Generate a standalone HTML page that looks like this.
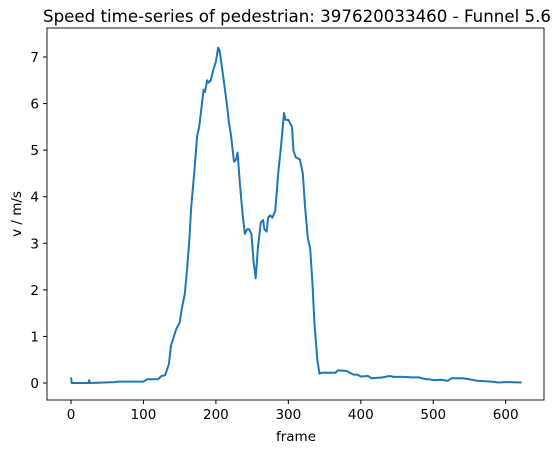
<!DOCTYPE html>
<html><head><meta charset="utf-8"><style>
body{margin:0;background:#fff;}
svg{display:block;font-family:"DejaVu Sans","Liberation Sans",sans-serif;}
</style></head><body>
<svg id="chart" width="560" height="453">
<text x="297" y="22" font-size="16.6" text-anchor="middle" textLength="508" lengthAdjust="spacingAndGlyphs">Speed time-series of pedestrian: 397620033460 - Funnel 5.6</text>
<rect x="47" y="28" width="497" height="372" fill="none" stroke="#000" stroke-width="0.9"/>
<g id="xt"></g><g id="yt"></g>
<path id="line" fill="none" stroke="#1f77b4" stroke-width="2" stroke-linejoin="round"/>
<text x="296" y="441" font-size="13.5" text-anchor="middle">frame</text>
<text transform="translate(21,214) rotate(-90)" font-size="13.5" text-anchor="middle">v / m/s</text>
</svg>
<script>
const xTicks=[0,100,200,300,400,500,600];
const yTicks=[0,1,2,3,4,5,6,7];
const frames=[0,1,24,25,26,60,65,100,105,120,125,130,135,138,142,145,150,153,157,160,163,166,170,174,177,180,183,185,188,190,193,196,200,203,205,210,215,218,221,225,228,230,233,237,240,243,246,249,252,255,258,262,265,267,270,272,275,278,282,286,290,294,296,300,305,307,310,316,320,323,327,330,333,336,340,343,346,350,360,365,368,380,385,390,395,400,410,415,430,440,445,460,470,480,490,495,500,510,520,525,540,550,560,580,590,600,622];
const speeds=[0.12,0.0,0.0,0.06,0.0,0.02,0.03,0.03,0.08,0.08,0.15,0.17,0.4,0.8,1.0,1.15,1.3,1.6,1.9,2.4,3.0,3.8,4.5,5.3,5.5,5.9,6.3,6.25,6.5,6.45,6.5,6.7,6.9,7.2,7.15,6.6,6.0,5.6,5.3,4.75,4.8,4.95,4.3,3.6,3.2,3.3,3.3,3.2,2.6,2.25,2.9,3.45,3.5,3.3,3.25,3.55,3.6,3.55,3.7,4.5,5.1,5.8,5.65,5.65,5.5,5.0,4.85,4.8,4.5,3.8,3.1,2.9,2.2,1.3,0.5,0.2,0.22,0.22,0.22,0.22,0.27,0.26,0.22,0.18,0.18,0.14,0.15,0.1,0.12,0.15,0.13,0.13,0.12,0.12,0.08,0.08,0.06,0.07,0.05,0.1,0.1,0.08,0.05,0.03,0.01,0.02,0.01];
const X=f=>71+f*0.7245, Y=v=>383-v*46.57;
const ns="http://www.w3.org/2000/svg";
const xt=document.getElementById('xt'), yt=document.getElementById('yt');
xTicks.forEach(t=>{
  const l=document.createElementNS(ns,'line');
  
  
  l.setAttribute('x1',X(t));l.setAttribute('x2',X(t));l.setAttribute('y1',400);l.setAttribute('y2',404);l.setAttribute('stroke','#000');
  xt.appendChild(l);
  const s=document.createElementNS(ns,'text');
  
  
  s.setAttribute('x',X(t));s.setAttribute('y',419);s.setAttribute('font-size','13.5');s.setAttribute('text-anchor','middle');
  s.textContent=t;xt.appendChild(s);
});
yTicks.forEach(t=>{
  const l=document.createElementNS(ns,'line');
  
  
  l.setAttribute('x1',43);l.setAttribute('x2',47);l.setAttribute('y1',Y(t));l.setAttribute('y2',Y(t));l.setAttribute('stroke','#000');
  yt.appendChild(l);
  const s=document.createElementNS(ns,'text');
  
  
  s.setAttribute('x',39);s.setAttribute('y',Y(t)+5);s.setAttribute('font-size','13.5');s.setAttribute('text-anchor','end');
  s.textContent=t;yt.appendChild(s);
});
document.getElementById('line').setAttribute('d',frames.map((f,i)=>(i?'L':'M')+X(f).toFixed(1)+','+Y(speeds[i]).toFixed(1)).join(''));
</script>
</body></html>
